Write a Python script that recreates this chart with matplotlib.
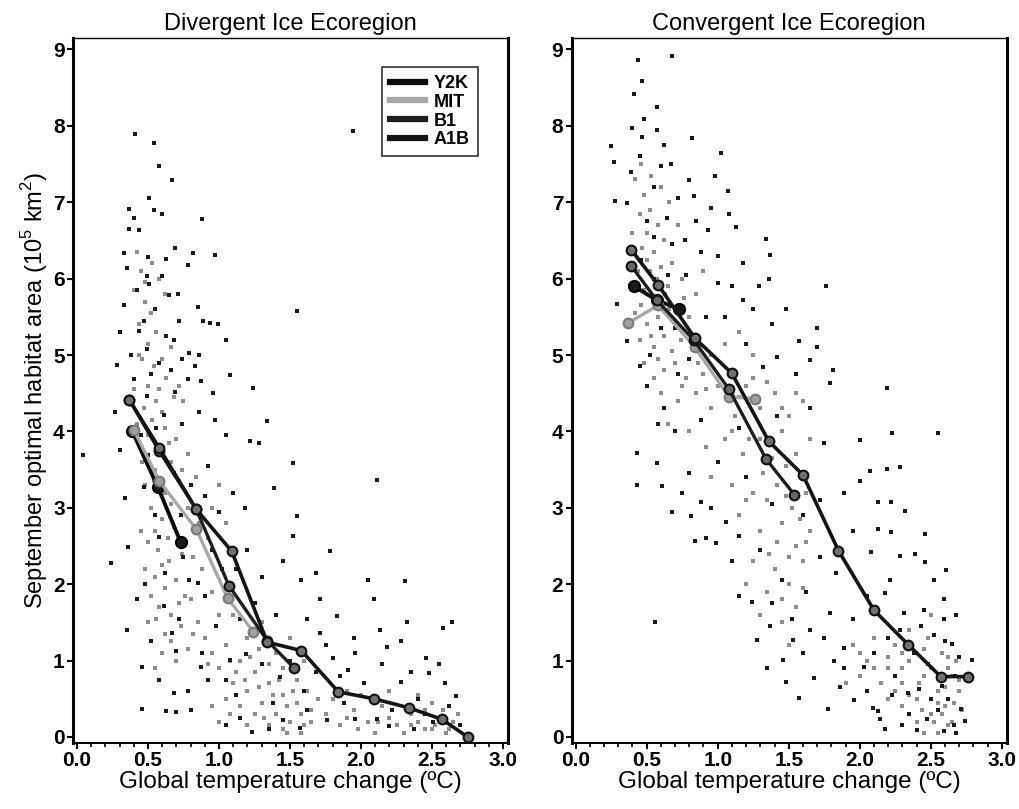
import matplotlib.pyplot as plt
import numpy as np
from matplotlib.ticker import MultipleLocator

plt.rcParams['font.family'] = ['Liberation Sans', 'DejaVu Sans']
plt.rcParams['mathtext.fontset'] = 'custom'
plt.rcParams['mathtext.rm'] = 'Liberation Sans'

# scenario lines, divergent ice ecoregion
div_y2k_x = [0.39, 0.57, 0.73]
div_y2k_y = [4.00, 3.27, 2.55]
div_mit_x = [0.40, 0.58, 0.84, 1.06, 1.24]
div_mit_y = [4.02, 3.35, 2.72, 1.82, 1.38]
div_b1_x = [0.37, 0.58, 0.84, 1.07, 1.34, 1.53]
div_b1_y = [4.41, 3.74, 2.98, 1.98, 1.26, 0.90]
div_a1b_x = [0.37, 0.58, 0.84, 1.09, 1.34, 1.58, 1.84, 2.09, 2.34, 2.57, 2.75]
div_a1b_y = [4.41, 3.78, 2.98, 2.43, 1.24, 1.13, 0.59, 0.50, 0.38, 0.23, 0.00]

# scenario lines, convergent ice ecoregion
con_y2k_x = [0.41, 0.57, 0.73]
con_y2k_y = [5.90, 5.72, 5.60]
con_mit_x = [0.37, 0.58, 0.84, 1.08, 1.26]
con_mit_y = [5.42, 5.65, 5.10, 4.45, 4.43]
con_b1_x = [0.39, 0.57, 0.83, 1.08, 1.34, 1.54]
con_b1_y = [6.17, 5.72, 5.20, 4.55, 3.64, 3.17]
con_a1b_x = [0.39, 0.58, 0.84, 1.10, 1.36, 1.60, 1.85, 2.10, 2.34, 2.57, 2.76]
con_a1b_y = [6.38, 5.92, 5.22, 4.76, 3.87, 3.43, 2.44, 1.66, 1.21, 0.79, 0.79]

# individual model runs (dark dots), divergent
div_dark = [
    (0.41, 7.90), (0.54, 7.77), (0.58, 7.47), (0.67, 7.29), (0.51, 7.05), (0.37, 6.91),
    (0.54, 6.90), (0.60, 6.85), (0.88, 6.78), (0.40, 6.80), (0.37, 6.65), (0.44, 6.64),
    (0.33, 6.33), (0.69, 6.40), (0.82, 6.33), (0.97, 6.31), (0.50, 6.28), (0.63, 6.26),
    (0.78, 6.18), (1.94, 7.93), (0.35, 6.14), (0.60, 6.03), (0.49, 6.03), (0.51, 5.93),
    (0.85, 5.63), (0.33, 5.65), (0.65, 5.78), (0.71, 5.80), (1.55, 5.58), (0.72, 5.44),
    (0.89, 5.44), (0.94, 5.42), (0.99, 5.40), (0.30, 5.30), (1.05, 5.20), (0.44, 5.32),
    (0.49, 5.08), (0.68, 5.20), (0.79, 5.03), (0.86, 5.00), (0.28, 4.87), (1.24, 4.57),
    (1.08, 4.74), (0.87, 4.66), (0.78, 4.68), (0.96, 4.50), (0.40, 4.68), (0.69, 4.51),
    (0.49, 4.46), (0.27, 4.25), (0.61, 4.22), (0.04, 3.69), (0.24, 2.28), (0.30, 3.76),
    (0.35, 1.40), (0.34, 3.13), (0.36, 2.49), (0.42, 1.80), (0.46, 0.92), (0.46, 0.36),
    (0.63, 0.34), (0.70, 0.33), (0.68, 0.58), (0.50, 3.69), (0.47, 3.27), (0.61, 1.71),
    (0.67, 1.36), (0.87, 0.92), (0.85, 2.02), (0.75, 2.36), (0.70, 1.13), (1.08, 1.01),
    (1.15, 1.54), (1.22, 3.87), (1.28, 3.85), (1.34, 4.13), (1.52, 3.59), (1.52, 2.63),
    (1.55, 2.89), (1.39, 3.26), (1.78, 2.43), (1.71, 1.80), (1.68, 2.14), (2.05, 2.06),
    (2.11, 3.37), (2.31, 2.04), (2.09, 1.80), (1.83, 1.58), (2.32, 1.51), (2.58, 1.43),
    (2.64, 1.51), (2.13, 1.40), (1.96, 1.10), (2.18, 1.18), (2.46, 1.03), (2.48, 0.84),
    (2.59, 0.71), (2.11, 0.23), (2.20, 0.14), (2.37, 0.10), (2.51, 0.19), (1.96, 0.24),
    (1.76, 0.22), (1.57, 0.12), (1.45, 0.22), (1.23, 0.07), (1.35, 0.11), (1.05, 0.74),
    (1.19, 1.08), (1.43, 0.79), (1.71, 1.36), (1.80, 1.03), (1.91, 0.88), (2.28, 0.72),
    (2.67, 0.53), (2.40, 0.50), (0.92, 3.55), (1.00, 2.95), (1.12, 2.20), (0.58, 2.62),
    (0.42, 5.85), (0.55, 5.60), (0.47, 5.45), (0.63, 5.25), (0.38, 5.00), (0.58, 4.90),
    (0.66, 4.80), (0.74, 4.95), (0.52, 4.75), (0.83, 4.85), (0.45, 3.95), (0.56, 4.05),
    (0.74, 4.10), (0.86, 4.25), (0.97, 4.15), (1.05, 3.95), (0.68, 3.45), (0.80, 3.30),
    (0.90, 3.15), (1.10, 3.20), (1.18, 3.00), (0.55, 2.90), (0.73, 2.90), (0.95, 2.45),
    (1.02, 2.20), (1.20, 2.45), (1.30, 2.10), (1.45, 2.30), (1.58, 2.05), (0.48, 2.00),
    (0.62, 2.15), (0.79, 2.05), (0.90, 1.85), (1.25, 1.75), (1.40, 1.60), (1.62, 1.55),
    (0.52, 1.25), (0.72, 1.55), (0.88, 1.10), (0.98, 1.45), (1.30, 0.95), (1.50, 1.00),
    (1.68, 0.85), (0.58, 0.75), (0.78, 0.60), (0.92, 0.75), (1.12, 0.55), (1.38, 0.45),
    (1.62, 0.35), (1.88, 0.45), (2.02, 0.70), (2.22, 0.35), (2.45, 0.30), (2.62, 0.40),
    (2.70, 0.15), (1.85, 0.80), (2.15, 0.95), (2.35, 0.85), (2.55, 0.95), (0.80, 0.35),
    (1.05, 0.15), (1.15, 0.25), (1.60, 0.60), (1.75, 1.20), (1.95, 1.30), (2.28, 1.25),
]

# individual model runs (light dots), divergent
div_light = [
    (0.42, 6.35), (0.45, 6.10), (0.40, 5.85), (0.48, 5.70), (0.52, 5.55), (0.44, 5.40),
    (0.56, 5.30), (0.50, 5.15), (0.46, 4.95), (0.54, 4.85), (0.60, 4.95), (0.63, 4.70),
    (0.58, 4.55), (0.68, 4.45), (0.40, 4.55), (0.47, 4.30), (0.72, 4.60), (0.66, 5.10),
    (0.75, 4.40), (0.62, 5.80), (0.42, 4.10), (0.50, 3.95), (0.62, 4.05), (0.70, 3.90),
    (0.46, 3.60), (0.55, 3.50), (0.66, 3.60), (0.78, 3.70), (0.48, 3.30), (0.62, 3.20),
    (0.72, 3.35), (0.52, 3.00), (0.60, 2.85), (0.45, 2.70), (0.68, 2.75), (0.50, 2.55),
    (0.57, 2.45), (0.65, 2.30), (0.48, 2.20), (0.55, 2.10), (0.62, 1.95), (0.70, 2.05),
    (0.52, 1.85), (0.58, 1.70), (0.66, 1.60), (0.50, 1.50), (0.62, 1.35), (0.73, 1.45),
    (0.80, 1.80), (0.88, 2.20), (0.92, 2.60), (0.95, 3.00), (1.00, 3.30), (1.05, 2.80),
    (0.85, 1.50), (0.90, 1.30), (0.78, 1.15), (0.70, 1.00), (0.60, 1.10), (0.55, 0.90),
    (0.95, 1.10), (1.00, 0.90), (1.05, 1.20), (1.10, 0.70), (1.15, 1.00), (1.20, 0.60),
    (1.25, 0.85), (1.30, 0.45), (1.35, 0.70), (1.40, 0.30), (1.45, 0.55), (1.50, 0.20),
    (1.55, 0.45), (1.60, 0.15), (1.35, 0.15), (1.25, 0.30), (1.15, 0.40), (1.05, 0.50),
    (0.95, 0.40), (1.45, 0.90), (1.55, 0.75), (1.62, 0.60), (1.40, 1.10), (1.20, 1.30),
    (1.30, 1.50), (1.50, 1.30), (1.10, 1.60), (1.60, 1.00), (1.65, 0.35), (1.00, 0.20),
    (1.75, 0.30), (1.85, 0.15), (1.95, 0.35), (2.05, 0.20), (2.15, 0.40), (2.25, 0.15),
    (2.35, 0.30), (2.45, 0.10), (2.55, 0.25), (2.62, 0.10), (2.68, 0.30), (2.50, 0.45),
    (2.40, 0.55), (2.20, 0.60), (2.00, 0.55), (1.90, 0.60), (2.30, 0.05), (2.60, 0.05),
    (1.80, 0.50), (2.10, 0.05), (0.44, 5.00), (0.50, 4.60), (0.56, 4.40), (0.60, 4.25),
    (0.53, 4.15), (0.65, 3.85), (0.58, 3.75), (0.74, 3.50), (0.84, 3.40), (0.54, 3.35),
    (0.66, 3.05), (0.78, 3.00), (0.86, 2.80), (0.55, 2.70), (0.64, 2.60), (0.74, 2.40),
    (0.82, 2.35), (0.60, 2.25), (0.76, 1.85), (0.95, 1.90), (1.00, 1.60), (0.72, 1.75),
    (0.56, 1.55), (0.66, 1.25), (0.82, 1.35), (0.92, 0.95), (1.08, 1.00), (1.12, 0.85),
    (1.18, 0.75), (1.22, 1.05), (1.28, 0.65), (1.32, 0.25), (1.38, 0.55), (1.42, 0.75),
    (1.48, 0.40), (1.52, 0.60), (1.58, 0.30), (1.45, 0.10), (1.20, 0.15), (1.08, 0.30),
    (1.28, 1.15), (1.35, 0.95), (1.48, 0.05), (1.58, 0.05), (1.65, 0.20), (1.70, 0.50),
    (2.40, 0.20), (2.50, 0.10), (2.58, 0.35), (2.65, 0.20), (2.52, 0.15), (2.45, 0.35),
    (2.35, 0.15), (2.20, 0.25), (2.12, 0.20), (1.98, 0.10), (1.90, 0.25), (0.48, 5.95),
    (0.53, 6.20), (0.58, 6.00),
]

# individual model runs (dark dots), convergent
con_dark = [
    (0.68, 8.92), (0.44, 8.86), (0.47, 8.59), (0.41, 8.42), (0.57, 8.25), (0.48, 8.09),
    (0.40, 7.97), (0.57, 7.94), (0.82, 7.84), (0.47, 7.86), (0.25, 7.73), (0.27, 7.53),
    (0.67, 7.50), (1.02, 7.65), (0.98, 7.35), (0.60, 7.48), (0.80, 7.29), (0.39, 7.40),
    (1.07, 7.15), (0.28, 7.01), (0.36, 6.99), (0.83, 7.08), (0.95, 6.93), (1.08, 6.84),
    (1.13, 6.67), (1.34, 6.52), (0.93, 6.64), (0.77, 6.51), (1.37, 6.31), (1.36, 6.00),
    (1.29, 5.90), (1.48, 5.60), (1.76, 5.91), (1.70, 5.35), (1.81, 4.81), (1.79, 4.64),
    (2.19, 4.57), (0.29, 5.67), (0.36, 5.18), (1.32, 4.84), (1.42, 4.97), (1.57, 5.19),
    (1.70, 5.11), (1.65, 4.93), (1.18, 5.72), (1.00, 5.94), (0.43, 3.30), (0.43, 3.72),
    (0.57, 3.59), (0.61, 3.28), (0.68, 2.95), (0.56, 1.51), (0.80, 3.46), (0.88, 3.08),
    (0.81, 2.89), (0.84, 2.56), (0.92, 2.60), (0.99, 2.54), (1.06, 2.81), (1.15, 2.63),
    (1.24, 1.77), (1.28, 1.27), (1.37, 1.45), (1.46, 1.01), (1.53, 1.27), (1.48, 0.72),
    (1.57, 0.51), (1.68, 0.77), (1.65, 1.40), (1.79, 1.62), (1.78, 0.36), (1.86, 0.66),
    (1.96, 0.49), (1.89, 1.16), (1.83, 2.15), (1.89, 3.19), (2.00, 3.35), (2.00, 3.89),
    (2.07, 3.48), (2.19, 3.51), (2.28, 3.54), (2.23, 3.98), (2.55, 3.98), (2.13, 3.08),
    (2.22, 3.08), (2.32, 2.96), (2.13, 2.72), (2.22, 2.68), (2.46, 2.66), (2.39, 2.39),
    (2.28, 2.37), (2.08, 2.42), (2.21, 2.06), (2.46, 2.29), (2.52, 2.05), (2.61, 2.18),
    (2.59, 1.80), (2.68, 1.60), (2.59, 1.54), (2.45, 1.66), (2.31, 1.62), (2.18, 1.88),
    (2.28, 1.40), (2.43, 1.45), (2.52, 1.33), (2.65, 1.22), (2.79, 1.01), (2.67, 0.80),
    (2.58, 0.67), (2.42, 0.63), (2.34, 0.57), (2.23, 0.55), (2.13, 0.34), (2.09, 0.38),
    (2.14, 0.23), (2.30, 0.16), (2.40, 0.09), (2.47, 0.23), (2.59, 0.08), (2.66, 0.16),
    (2.71, 0.36), (2.74, 0.21), (2.03, 0.92), (1.89, 0.90), (0.50, 4.60), (0.62, 4.30),
    (0.72, 4.75), (0.55, 6.55), (0.65, 6.05), (0.46, 6.25), (0.70, 5.35), (0.52, 5.00),
    (0.45, 7.60), (0.55, 7.20), (0.62, 7.75), (0.72, 7.05), (0.50, 6.75), (0.64, 6.80),
    (0.85, 6.75), (0.42, 6.35), (0.68, 6.45), (0.88, 6.35), (1.00, 6.30), (1.18, 6.20),
    (0.55, 6.00), (0.78, 6.05), (1.10, 5.90), (1.25, 5.60), (0.60, 5.35), (0.92, 5.50),
    (1.05, 5.50), (1.38, 5.40), (0.45, 4.85), (0.80, 4.95), (1.20, 5.15), (1.55, 4.75),
    (0.58, 4.10), (0.70, 4.00), (0.88, 4.15), (1.00, 3.60), (1.15, 4.05), (1.28, 4.45),
    (1.42, 4.20), (1.65, 4.30), (1.75, 3.85), (0.75, 3.20), (0.95, 3.00), (1.20, 3.40),
    (1.38, 3.05), (1.60, 2.90), (1.72, 3.10), (1.10, 2.30), (1.30, 2.45), (1.45, 2.05),
    (1.62, 1.90), (1.72, 2.35), (1.95, 2.70), (1.15, 1.85), (1.38, 1.75), (1.52, 1.55),
    (1.75, 1.30), (1.95, 1.55), (2.05, 1.85), (1.35, 0.90), (1.60, 1.10), (1.82, 1.00),
    (2.10, 1.10), (2.20, 1.30), (2.38, 1.10), (2.48, 0.95), (2.60, 1.25), (2.70, 1.05),
    (2.25, 0.80), (2.50, 0.50), (2.62, 0.50), (2.05, 0.60), (2.18, 0.10), (2.35, 0.30),
    (2.55, 0.35), (2.68, 0.05),
]

# individual model runs (light dots), convergent
con_light = [
    (0.42, 7.30), (0.48, 7.10), (0.45, 6.85), (0.52, 6.90), (0.40, 6.60), (0.50, 6.60),
    (0.58, 6.70), (0.47, 6.40), (0.55, 6.35), (0.62, 6.50), (0.44, 6.10), (0.52, 6.10),
    (0.60, 6.15), (0.68, 6.20), (0.48, 5.85), (0.65, 5.90), (0.75, 6.00), (0.42, 5.55),
    (0.50, 5.40), (0.58, 5.50), (0.70, 5.45), (0.45, 5.20), (0.55, 5.10), (0.62, 5.25),
    (0.80, 5.50), (0.85, 5.80), (0.90, 6.10), (0.72, 6.70), (0.38, 5.90), (0.66, 7.00),
    (0.48, 4.90), (0.55, 4.70), (0.62, 4.80), (0.70, 4.90), (0.78, 4.70), (0.86, 4.90),
    (0.95, 5.00), (1.05, 5.15), (1.15, 5.30), (1.25, 5.00), (0.60, 4.50), (0.72, 4.40),
    (0.85, 4.50), (0.95, 4.30), (1.00, 4.60), (1.12, 4.20), (1.20, 4.60), (1.30, 4.30),
    (1.40, 4.50), (1.50, 4.20), (1.60, 4.40), (0.65, 4.10), (0.80, 4.00), (0.92, 3.80),
    (1.05, 3.90), (1.18, 3.70), (1.30, 3.90), (1.45, 4.00), (1.55, 3.70), (1.65, 3.90),
    (0.95, 3.40), (1.10, 3.30), (1.25, 3.20), (1.42, 3.30), (1.52, 3.00), (1.62, 3.20),
    (1.15, 2.90), (1.30, 2.70), (1.45, 2.80), (1.55, 2.50), (1.65, 2.70), (1.25, 2.30),
    (1.40, 2.20), (1.50, 2.00), (1.60, 2.30), (1.35, 1.90), (1.55, 1.70), (1.45, 1.50),
    (1.30, 1.60), (1.20, 2.00), (1.95, 1.20), (2.05, 1.00), (2.10, 1.30), (2.20, 0.90),
    (2.25, 1.20), (2.30, 0.70), (2.35, 1.00), (2.40, 0.50), (2.45, 0.80), (2.50, 0.30),
    (2.55, 0.60), (2.60, 0.40), (2.62, 0.90), (2.65, 0.20), (2.70, 0.60), (2.58, 1.10),
    (2.48, 1.30), (2.40, 0.20), (2.30, 0.40), (2.20, 0.50), (2.15, 0.70), (2.00, 0.80),
    (1.90, 0.70), (2.68, 1.00), (2.72, 0.35), (2.55, 0.05), (2.45, 0.05), (2.62, 0.15),
    (2.35, 1.40), (2.50, 1.60), (0.46, 7.50), (0.53, 7.35), (0.60, 7.20), (0.50, 6.25),
    (0.57, 6.00), (0.63, 5.80), (0.46, 5.65), (0.53, 5.25), (0.66, 5.60), (0.74, 5.20),
    (0.76, 5.75), (0.68, 5.05), (0.82, 5.20), (0.90, 4.75), (0.58, 4.95), (0.75, 4.60),
    (0.92, 4.55), (1.08, 4.75), (1.15, 4.45), (1.25, 4.70), (1.35, 4.65), (1.45, 4.30),
    (1.55, 4.50), (1.10, 4.00), (1.22, 3.90), (1.38, 3.65), (1.48, 3.55), (1.58, 3.45),
    (1.32, 3.45), (1.20, 3.10), (1.35, 3.10), (1.48, 3.15), (1.58, 2.85), (1.42, 2.55),
    (1.50, 2.35), (1.62, 2.55), (1.36, 2.40), (1.45, 1.80), (1.60, 1.95), (1.50, 1.20),
    (2.00, 1.10), (2.10, 0.90), (2.20, 1.05), (2.30, 1.10), (2.30, 0.90), (2.42, 0.70),
    (2.50, 0.90), (2.55, 0.45), (2.60, 0.65), (2.65, 0.80), (2.52, 0.20), (2.58, 0.30),
    (2.66, 0.45), (2.70, 0.75), (2.44, 0.35), (2.35, 0.55), (2.25, 0.60), (2.62, 1.05),
    (2.45, 1.15),
]

scenario_names = ['Y2K', 'MIT', 'B1', 'A1B']

fig = plt.figure(figsize=(10.19, 8.09), dpi=100)
ax1 = fig.add_axes([0.0716, 0.082, 0.427, 0.871])
ax2 = fig.add_axes([0.561, 0.082, 0.427, 0.871])


def draw_panel(ax, dark, light, lines, title):
    lx, ly = np.array(light).T
    dx, dy = np.array(dark).T
    ax.scatter(lx, ly, s=5, marker='s', color='#8c8c8c', linewidths=0, zorder=1)
    ax.scatter(dx, dy, s=5, marker='s', color='#1a1a1a', linewidths=0, zorder=1)
    styles = [
        dict(color='#0a0a0a', lw=2.8, mfc='#1a1a1a', mec='#000000', ms=8),
        dict(color='#a8a8a8', lw=2.4, mfc='#a0a0a0', mec='#7a7a7a', ms=7),
        dict(color='#1e1e1e', lw=2.4, mfc='#666666', mec='#111111', ms=7),
        dict(color='#141414', lw=2.6, mfc='#707070', mec='#111111', ms=7),
    ]
    handles = []
    for (x, y), st, name in zip(lines, styles, scenario_names):
        ax.plot(x, y, marker='o', zorder=3, mew=1.5, **st)
        h, = ax.plot([], [], color=st['color'], lw=4.5, label=name)
        handles.append(h)

    ax.set_xlim(-0.028, 3.035)
    ax.set_ylim(-0.075, 9.15)
    ax.xaxis.set_major_locator(MultipleLocator(0.5))
    ax.xaxis.set_minor_locator(MultipleLocator(0.1))
    ax.yaxis.set_major_locator(MultipleLocator(1))
    ax.xaxis.set_major_formatter(plt.FormatStrFormatter('%.1f'))
    ax.tick_params(axis='both', which='major', direction='out', length=4, width=1.5,
                   labelsize=15, pad=2)
    ax.tick_params(axis='x', which='minor', direction='out', length=3, width=1.2)
    for lab in ax.get_xticklabels() + ax.get_yticklabels():
        lab.set_fontweight('bold')
    ax.spines['left'].set_linewidth(2.2)
    ax.spines['right'].set_linewidth(2.2)
    ax.spines['top'].set_linewidth(1.0)
    ax.spines['bottom'].set_linewidth(1.4)
    ax.spines['bottom'].set_linestyle((0, (1, 0.6)))
    ax.set_title(title, fontsize=17, pad=6)
    ax.set_xlabel('Global temperature change (\u00baC)', fontsize=17.5, labelpad=1)
    return handles


handles = draw_panel(ax1, div_dark, div_light,
                     [(div_y2k_x, div_y2k_y), (div_mit_x, div_mit_y),
                      (div_b1_x, div_b1_y), (div_a1b_x, div_a1b_y)],
                     'Divergent Ice Ecoregion')
draw_panel(ax2, con_dark, con_light,
           [(con_y2k_x, con_y2k_y), (con_mit_x, con_mit_y),
            (con_b1_x, con_b1_y), (con_a1b_x, con_a1b_y)],
           'Convergent Ice Ecoregion')

ax1.set_ylabel('September optimal habitat area (10$^5$ km$^2$)', fontsize=17, labelpad=2)

leg = ax1.legend(handles=handles, loc='upper left', bbox_to_anchor=(0.69, 0.972),
                 frameon=True, fancybox=False, edgecolor='black',
                 handlelength=1.9, handletextpad=0.5, borderpad=0.45, labelspacing=0.1,
                 prop={'weight': 'bold', 'size': 13})
leg.get_frame().set_linewidth(1.2)

fig.savefig('out.png', dpi=100)
